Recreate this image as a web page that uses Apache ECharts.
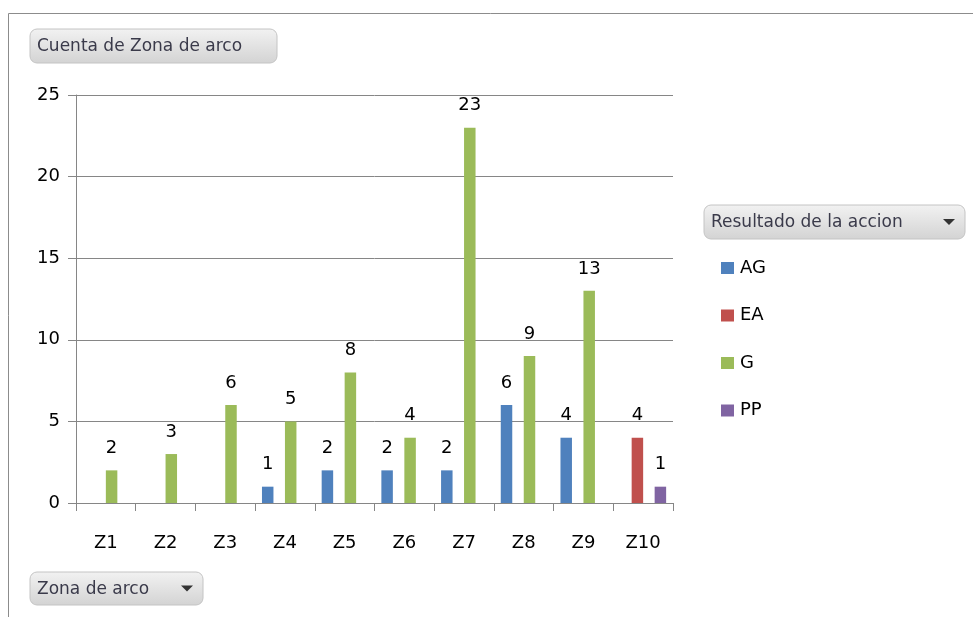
<!DOCTYPE html>
<html>
<head>
<meta charset="utf-8">
<script src="https://cdn.jsdelivr.net/npm/echarts@6/dist/echarts.min.js"></script>
<style>
html,body{margin:0;padding:0;background:#fff;}
#c{width:973px;height:617px;}
</style>
</head>
<body>
<div id="c"></div>
<script>
const categories = ['Z1','Z2','Z3','Z4','Z5','Z6','Z7','Z8','Z9','Z10'];
const seriesNames = ['AG','EA','G','PP'];
const valuesAG = [null,null,null,1,2,2,2,6,4,null];
const valuesEA = [null,null,null,null,null,null,null,null,null,4];
const valuesG  = [2,3,6,5,8,4,23,9,13,null];
const valuesPP = [null,null,null,null,null,null,null,null,null,1];
const yTicks = [0,5,10,15,20,25];

const colors = ['#4F81BD','#C0504D','#9BBB59','#8064A2'];
const FONT = 'DejaVu Sans';

const chart = echarts.init(document.getElementById('c'), null, {renderer:'canvas'});

function button(x, y, w, h, label, arrow){
  const children = [
    {type:'rect', shape:{x:0,y:0,width:w,height:h,r:7},
     style:{fill:new echarts.graphic.LinearGradient(0,0,0,1,[{offset:0,color:'#f2f2f2'},{offset:1,color:'#d3d3d3'}]),
            stroke:'#c4c4c4', lineWidth:1}},
    {type:'text', x:7, y:h/2+1, style:{text:label, font:'17px "'+FONT+'"', fill:'#3a3a4a', verticalAlign:'middle'}}
  ];
  if(arrow){
    children.push({type:'polygon', shape:{points:[[w-22,h/2-3],[w-10,h/2-3],[w-16,h/2+3]]}, style:{fill:'#333'}});
  }
  return {type:'group', x:x, y:y, children:children, z:10};
}

const dataArrays = [valuesAG, valuesEA, valuesG, valuesPP];

chart.setOption({
  animation:false,
  color:colors,
  textStyle:{fontFamily:FONT},
  grid:{left:76, right:300, top:95, bottom:114, containLabel:false},
  legend:{
    orient:'vertical', left:716, top:254, itemWidth:13, itemHeight:12, itemGap:29.5,
    icon:'rect', data:seriesNames,
    textStyle:{fontSize:18, color:'#000', fontFamily:FONT, padding:[0,0,0,1]}
  },
  xAxis:{
    type:'category', data:categories,
    axisLine:{lineStyle:{color:'#868686', width:1}},
    axisTick:{show:true, length:8, lineStyle:{color:'#868686'}},
    axisLabel:{fontSize:18, color:'#000', margin:31, fontFamily:FONT}
  },
  yAxis:{
    type:'value', min:0, max:25, interval:5,
    axisLine:{show:true, lineStyle:{color:'#868686'}},
    axisTick:{show:true, length:8, lineStyle:{color:'#868686'}},
    splitLine:{show:true, lineStyle:{color:'#868686', width:1}},
    axisLabel:{fontSize:18, color:'#000', margin:16, fontFamily:FONT,
      formatter:function(v){ return yTicks.indexOf(v)>=0 ? String(v) : ''; }}
  },
  series: seriesNames.map(function(n,i){
    return {
      name:n, type:'bar', data:dataArrays[i],
      barGap:'0%', barCategoryGap:'23%',
      itemStyle:{color:colors[i]},
      label:{show:true, position:'top', fontSize:18, color:'#000', distance:13, fontFamily:FONT},
      emphasis:{disabled:true}
    };
  }),
  graphic:[
    {type:'line', shape:{x1:8.5,y1:13.5,x2:973,y2:13.5}, style:{stroke:'#8c8c8c', lineWidth:1}},
    {type:'line', shape:{x1:8.5,y1:13.5,x2:8.5,y2:617}, style:{stroke:'#8c8c8c', lineWidth:1}},
    button(30, 29, 247, 34, 'Cuenta de Zona de arco', false),
    button(704, 205, 261, 34, 'Resultado de la accion', true),
    button(30, 572, 173, 33, 'Zona de arco', true)
  ]
});
</script>
</body>
</html>
